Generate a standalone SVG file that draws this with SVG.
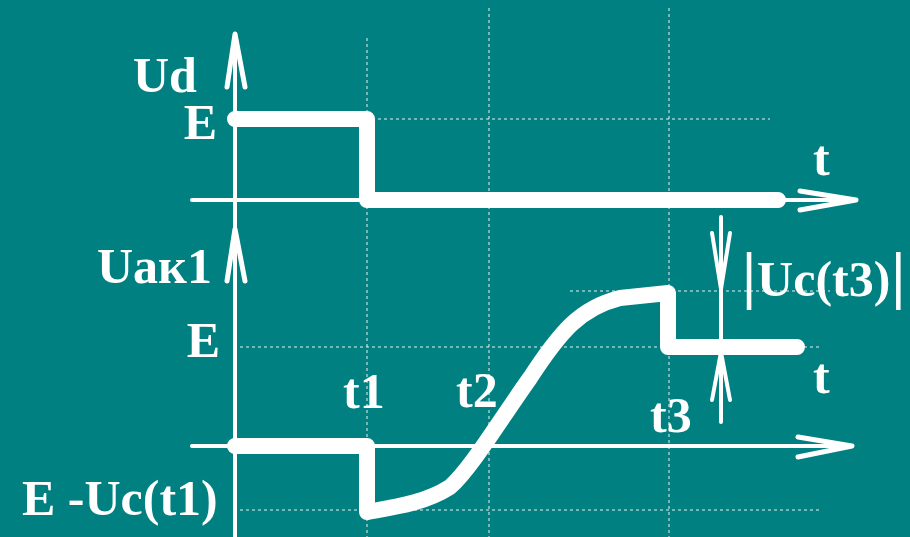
<svg xmlns="http://www.w3.org/2000/svg" width="910" height="537" viewBox="0 0 910 537">
<style>
.grid{stroke:#fff;stroke-width:1;stroke-dasharray:3 3;fill:none;opacity:0.9}
.axis{stroke:#fff;stroke-width:4;fill:none;stroke-linecap:round}
.head{stroke:#fff;stroke-width:5;fill:none;stroke-linecap:round;stroke-linejoin:round}
.sig{stroke:#fff;stroke-width:16;fill:none;stroke-linecap:round;stroke-linejoin:round}
.dim{stroke:#fff;stroke-width:4;fill:none;stroke-linecap:round;stroke-linejoin:round}
text{font-family:"Liberation Serif","Times New Roman",serif;font-weight:bold;font-size:50px;fill:#fff}
</style>
<rect width="910" height="537" fill="#008080"/>
<g id="grid">
<line class="grid" x1="367" y1="38" x2="367" y2="537"/>
<line class="grid" x1="489" y1="8" x2="489" y2="537"/>
<line class="grid" x1="669" y1="8" x2="669" y2="537"/>
<line class="grid" x1="372" y1="119" x2="770" y2="119"/>
<line class="grid" x1="570" y1="291" x2="830" y2="291"/>
<line class="grid" x1="240" y1="347" x2="820" y2="347"/>
<line class="grid" x1="240" y1="510" x2="820" y2="510"/>
</g>
<g id="axes">
<line class="axis" x1="235" y1="34" x2="235" y2="537"/>
<path class="head" d="M227,87 L235,34 L245,87"/>
<path class="head" d="M227,281 L235,229 L245,281"/>
<line class="axis" x1="192" y1="200" x2="855" y2="200"/>
<path class="head" d="M800,191 L856,200 L800,210"/>
<line class="axis" x1="192" y1="446" x2="851" y2="446"/>
<path class="head" d="M798,437 L852,446 L798,457"/>
</g>
<g id="signal-ud">
<path class="sig" d="M235,119 H367 V200 H778"/>
</g>
<g id="signal-uak1">
<path class="sig" d="M235,446 H367 V512 C395,507 425,503 450,487 C470,470 500,420 530,378 C560,332 580,308 620,298 L668,293 V347 H797"/>
</g>
<g id="dimension">
<line class="dim" x1="721" y1="217" x2="721" y2="422"/>
<path class="dim" d="M712,233 L721,289 L730,233"/>
<path class="dim" d="M712,400 L721,352 L730,400"/>
</g>
<g id="labels">
<text x="133" y="92">Ud</text>
<text x="217" y="139" text-anchor="end">E</text>
<text x="813" y="175">t</text>
<text x="97" y="283">Uак1</text>
<text x="220" y="357" text-anchor="end">E</text>
<text x="343" y="408">t1</text>
<text x="456" y="407">t2</text>
<text x="650" y="432">t3</text>
<text x="813" y="393">t</text>
<text x="22" y="515">E -Uc(t1)</text>
<text x="742" y="296"><tspan font-size="64">|</tspan><tspan dx="1">Uc(t3)</tspan><tspan font-size="64" dx="1">|</tspan></text>
</g>
</svg>
